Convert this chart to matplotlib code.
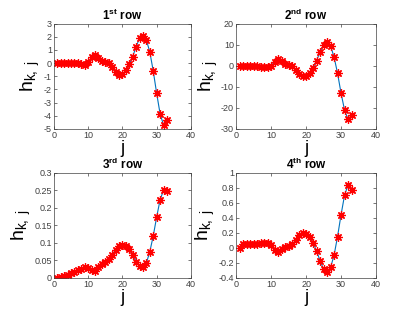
import numpy as np
import matplotlib
matplotlib.use("Agg")
import matplotlib.pyplot as plt

plt.rcParams['font.family'] = ['Liberation Sans', 'DejaVu Sans']
plt.rcParams['mathtext.fontset'] = 'custom'
plt.rcParams['mathtext.rm'] = 'Liberation Sans'
plt.rcParams['mathtext.it'] = 'Liberation Sans'
plt.rcParams['mathtext.bf'] = 'Liberation Sans:bold'

# data, one value per j = 1..33
j = np.arange(1, 34)
row1 = [0, 0, 0, 0.02, 0.02, 0, -0.02, -0.05, -0.12, 0.05, 0.45, 0.6, 0.4, 0.15, 0.05, 0.0,
        -0.3, -0.7, -0.9, -0.85, -0.55, -0.1, 0.5, 1.25, 1.9, 2.05, 1.75, 0.85, -0.6, -2.3,
        -3.85, -4.7, -4.35]
row2 = [0, 0, -0.1, -0.1, -0.1, -0.2, -0.4, -0.5, -0.5, 0, 2, 3, 2.2, 1, 0.5, 0, -1.8, -4,
        -5, -5, -3.5, -1, 2.5, 6.5, 10, 11.2, 9.5, 4.2, -3.5, -13, -21, -25.5, -23.5]
row3 = [0, 0.002, 0.005, 0.008, 0.013, 0.018, 0.022, 0.027, 0.03, 0.028, 0.022, 0.02, 0.03,
        0.04, 0.047, 0.055, 0.067, 0.08, 0.09, 0.093, 0.09, 0.082, 0.067, 0.047, 0.033, 0.032,
        0.043, 0.075, 0.12, 0.174, 0.223, 0.25, 0.247]
row4 = [0, 0.05, 0.05, 0.05, 0.05, 0.05, 0.06, 0.065, 0.06, 0.04, -0.03, -0.06, -0.02, 0.01,
        0.03, 0.05, 0.1, 0.17, 0.2, 0.18, 0.14, 0.07, -0.04, -0.17, -0.28, -0.32, -0.26, -0.1,
        0.15, 0.44, 0.7, 0.84, 0.77]

titles = [r'1$^{\mathbf{st}}$ row', r'2$^{\mathbf{nd}}$ row',
          r'3$^{\mathbf{rd}}$ row', r'4$^{\mathbf{th}}$ row']
ylims = [(-5, 3), (-30, 20), (0, 0.3), (-0.4, 1)]
yticks = [np.arange(-5, 4, 1), np.arange(-30, 21, 10),
          np.arange(0, 0.31, 0.05), np.arange(-0.4, 1.01, 0.2)]
ytick_labels = [
    ['-5', '-4', '-3', '-2', '-1', '0', '1', '2', '3'],
    ['-30', '-20', '-10', '0', '10', '20'],
    ['0', '0.05', '0.1', '0.15', '0.2', '0.25', '0.3'],
    ['-0.4', '-0.2', '0', '0.2', '0.4', '0.6', '0.8', '1'],
]
data = [row1, row2, row3, row4]

fig = plt.figure(figsize=(4.15, 3.12), dpi=100)
positions = [
    [0.130, 0.587, 0.330, 0.337],
    [0.569, 0.587, 0.337, 0.337],
    [0.130, 0.109, 0.330, 0.337],
    [0.569, 0.109, 0.337, 0.337],
]
grey = '#404040'
for k in range(4):
    ax = fig.add_axes(positions[k])
    ax.plot(j, data[k], color='#0072BD', lw=0.8)
    ax.plot(j, data[k], ls='none', marker=(8, 2, 0), color='red', ms=6, mew=0.9)
    ax.set_xlim(0, 40)
    ax.set_ylim(*ylims[k])
    ax.set_xticks([0, 10, 20, 30, 40])
    ax.set_yticks(yticks[k])
    ax.set_yticklabels(ytick_labels[k])
    ax.tick_params(direction='in', length=2.5, width=0.5, labelsize=6.5, colors=grey,
                   top=True, right=True, pad=1.5)
    for s in ax.spines.values():
        s.set_linewidth(0.5)
        s.set_color(grey)
    ax.set_title(titles[k], fontsize=8.5, fontweight='bold', pad=3)
    ax.set_xlabel('j', fontsize=13, labelpad=0)
    ax.set_ylabel(r'h$_{\mathrm{k,\ j}}$', fontsize=14, labelpad=1)

fig.savefig('out.png', dpi=100)
